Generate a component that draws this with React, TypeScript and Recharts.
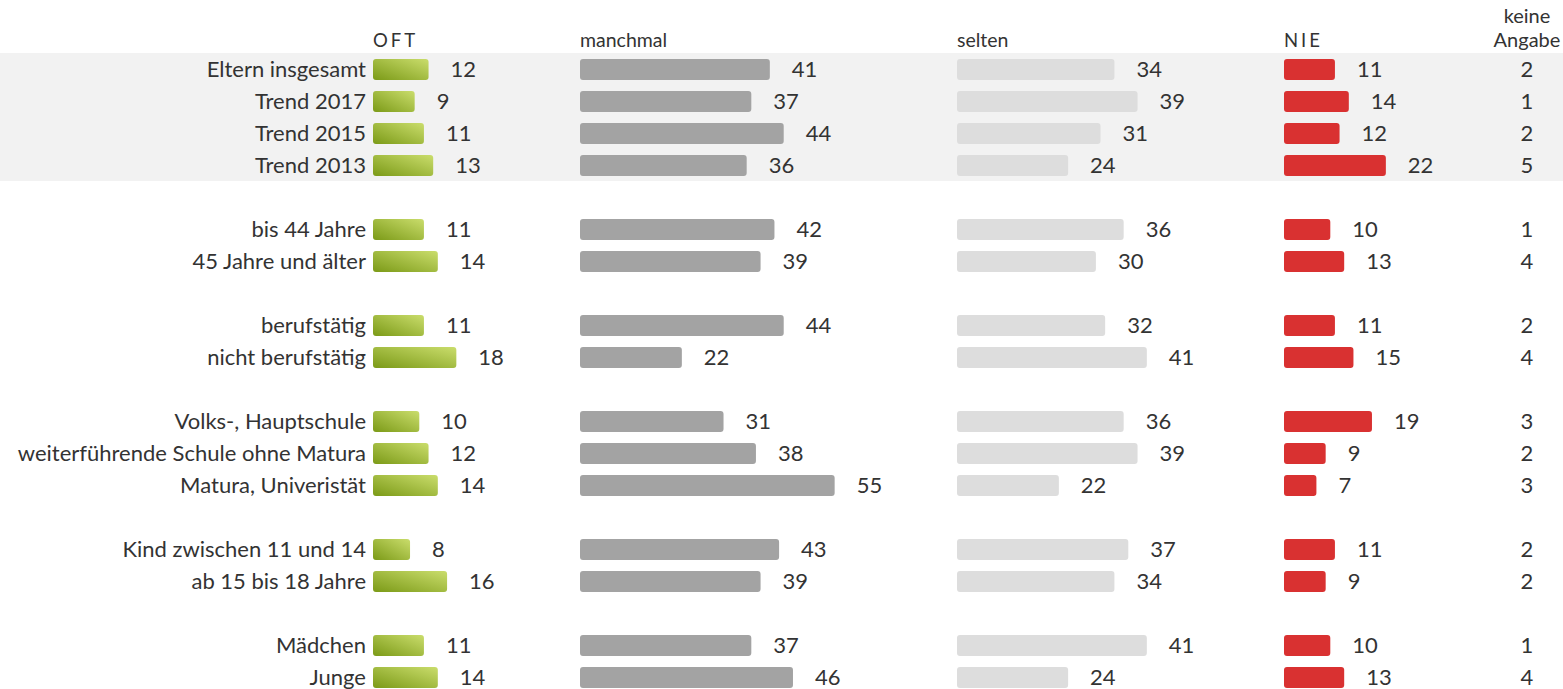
import React from 'react';
import { BarChart, Bar, XAxis, YAxis, LabelList, ReferenceArea } from 'recharts';

// rows, with empty spacer rows ("_n") between the groups
const categories = [
  'Eltern insgesamt', 'Trend 2017', 'Trend 2015', 'Trend 2013', '_1',
  'bis 44 Jahre', '45 Jahre und älter', '_2',
  'berufstätig', 'nicht berufstätig', '_3',
  'Volks-, Hauptschule', 'weiterführende Schule ohne Matura', 'Matura, Univeristät', '_4',
  'Kind zwischen 11 und 14', 'ab 15 bis 18 Jahre', '_5',
  'Mädchen', 'Junge',
];
const oft = [12, 9, 11, 13, null, 11, 14, null, 11, 18, null, 10, 12, 14, null, 8, 16, null, 11, 14];
const manchmal = [41, 37, 44, 36, null, 42, 39, null, 44, 22, null, 31, 38, 55, null, 43, 39, null, 37, 46];
const selten = [34, 39, 31, 24, null, 36, 30, null, 32, 41, null, 36, 39, 22, null, 37, 34, null, 41, 24];
const nie = [11, 14, 12, 22, null, 10, 13, null, 11, 15, null, 19, 9, 7, null, 11, 9, null, 10, 13];
const keineAngabe = [2, 1, 2, 5, null, 1, 4, null, 2, 4, null, 3, 2, 3, null, 2, 2, null, 1, 4];

const data = categories.map((key, i) => ({
  key,
  oft: oft[i],
  manchmal: manchmal[i],
  selten: selten[i],
  nie: nie[i],
  keine: keineAngabe[i],
}));
const keineByKey: Record<string, number | null> = {};
data.forEach(d => { keineByKey[d.key] = d.keine; });

const W = 1563;
const H = 703;
const TEXT = '#333333';
const FONT = 22;
const PX = 4.63; // pixels per percent, same for every column
const PLOT_LEFT = 373;
const PLOT_RIGHT = 1463;

const columns = [
  { id: 'oft', title: 'OFT', start: 373, fill: 'url(#oftGrad)', spaced: true },
  { id: 'manchmal', title: 'manchmal', start: 580, fill: '#a3a3a3', spaced: false },
  { id: 'selten', title: 'selten', start: 957, fill: '#dddddd', spaced: false },
  { id: 'nie', title: 'NIE', start: 1284, fill: '#d93131', spaced: true },
];

const domainFor = (start: number): [number, number] => [
  -(start - PLOT_LEFT) / PX,
  (PLOT_RIGHT - start) / PX,
];

const KeineTick = (props: any) => {
  const { x, y, payload } = props;
  const v = keineByKey[payload.value];
  if (v == null) return null;
  return (
    <text x={x} y={y} dy="0.35em" textAnchor="middle" fill={TEXT} fontSize={FONT}>
      {v}
    </text>
  );
};

export default function App() {
  return (
    <div style={{ position: 'absolute', left: 0, top: 0, width: W, height: 689, overflow: 'hidden', background: '#fff', fontFamily: 'Lato, sans-serif', color: TEXT }}>
      {columns.map(c => (
        <div key={c.id} style={{ position: 'absolute', left: c.start, top: 28, fontSize: c.spaced ? 18.5 : 19.5, letterSpacing: c.spaced ? 3 : 0, lineHeight: '24px' }}>
          {c.title}
        </div>
      ))}
      <div style={{ position: 'absolute', left: 1477, width: 100, top: 3, fontSize: 20, lineHeight: '24px', textAlign: 'center' }}>
        keine<br />Angabe
      </div>
      <BarChart width={W} height={H} data={data} layout="vertical" margin={{ top: 53, right: 0, bottom: 10, left: 0 }}>
        <defs>
          <linearGradient id="oftGrad" x1="0" y1="1" x2="1" y2="0">
            <stop offset="0%" stopColor="#7b9a17" />
            <stop offset="100%" stopColor="#cadd6c" />
          </linearGradient>
        </defs>
        {columns.map(c => (
          <XAxis key={c.id} xAxisId={c.id} type="number" domain={domainFor(c.start)} allowDataOverflow hide />
        ))}
        <YAxis
          yAxisId="lab"
          type="category"
          dataKey="key"
          width={PLOT_LEFT}
          axisLine={false}
          tickLine={false}
          tickSize={0}
          tickMargin={7}
          interval={0}
          tick={{ fill: TEXT, fontSize: FONT }}
          tickFormatter={(v: string) => (v.startsWith('_') ? '' : v)}
        />
        {columns.map(c => (
          <YAxis key={c.id} yAxisId={c.id} type="category" dataKey="key" hide />
        ))}
        <YAxis
          yAxisId="keine"
          type="category"
          dataKey="key"
          orientation="right"
          width={W - PLOT_RIGHT}
          axisLine={false}
          tickLine={false}
          tickSize={0}
          tickMargin={64}
          interval={0}
          tick={<KeineTick />}
        />
        <ReferenceArea
          xAxisId="oft"
          yAxisId="lab"
          x1={-PLOT_LEFT / PX}
          x2={(W - PLOT_LEFT) / PX}
          y1="Eltern insgesamt"
          y2="Trend 2013"
          ifOverflow="visible"
          fill="#f2f2f2"
          fillOpacity={1}
          stroke="none"
        />
        {columns.map(c => (
          <Bar
            key={c.id}
            dataKey={c.id}
            xAxisId={c.id}
            yAxisId={c.id}
            fill={c.fill}
            barSize={21}
            radius={3}
            isAnimationActive={false}
          >
            <LabelList dataKey={c.id} position="right" offset={22} fill={TEXT} fontSize={FONT} />
          </Bar>
        ))}
      </BarChart>
    </div>
  );
}
